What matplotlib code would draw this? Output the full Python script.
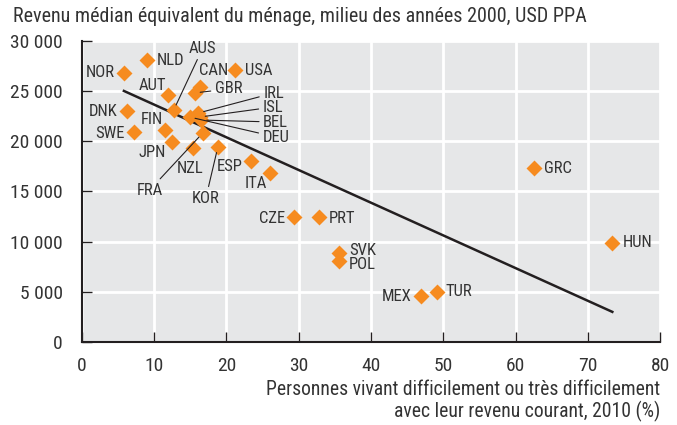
import matplotlib
matplotlib.use("Agg")
import matplotlib.pyplot as plt
from matplotlib import font_manager as fm
from matplotlib.ticker import FuncFormatter

# pick a condensed sans close to the original (Helvetica Condensed look)
installed = {f.name for f in fm.fontManager.ttflist}
for cand in ['Roboto Condensed', 'Archivo Narrow', 'PT Sans Narrow',
             'Liberation Sans Narrow', 'Asap Condensed']:
    if cand in installed:
        plt.rcParams['font.family'] = [cand, 'DejaVu Sans']
        break

# ==========================================
# Data
# ==========================================
countries = ['NOR', 'NLD', 'AUT', 'AUS', 'USA', 'CAN', 'GBR', 'IRL', 'ISL',
             'BEL', 'DEU', 'DNK', 'FIN', 'SWE', 'JPN', 'NZL', 'KOR', 'FRA',
             'ESP', 'ITA', 'CZE', 'PRT', 'SVK', 'POL', 'MEX', 'TUR', 'GRC',
             'HUN']
difficult_pct = [5.8, 9.0, 11.9, 12.7, 21.2, 16.3, 15.6, 16.1, 16.3,
                 16.5, 14.9, 6.2, 11.5, 7.2, 12.5, 15.4, 18.8, 16.7,
                 23.4, 26.0, 29.3, 32.8, 35.6, 35.6, 46.9, 49.1, 62.6,
                 73.4]
median_income = [26800, 28100, 24600, 23100, 27100, 25400, 24800, 22800,
                 22400, 22100, 22400, 23000, 21100, 20900, 19900, 19300,
                 19400, 20800, 18000, 16800, 12400, 12400, 8900, 8100,
                 4600, 5000, 17300, 9900]

# fitted trend line endpoints
trend_x = [5.8, 73.4]
trend_y = [25000, 3000]

x_ticks = [0, 10, 20, 30, 40, 50, 60, 70, 80]
y_ticks = [0, 5000, 10000, 15000, 20000, 25000, 30000]

# label placement: offset in pixels, alignment, leader line
label_pos = {
    'NOR': (-9, 0, 'right', False), 'NLD': (10, -1, 'left', False),
    'AUT': (-16, 9, 'center', False), 'AUS': (29, 62, 'center', True),
    'USA': (10, -1, 'left', False), 'CAN': (14, 16, 'center', False),
    'GBR': (34, 4, 'center', True), 'IRL': (65, 20, 'left', True),
    'ISL': (63, 10, 'left', True), 'BEL': (62, -2, 'left', True),
    'DEU': (73, -20, 'left', True), 'DNK': (-9, 0, 'right', False),
    'FIN': (-13, 11, 'center', False), 'SWE': (-9, -1, 'right', False),
    'JPN': (-20, -10, 'center', False), 'NZL': (-3, -20, 'center', False),
    'KOR': (-12, -51, 'center', True), 'FRA': (-53, -57, 'center', True),
    'ESP': (-21, -5, 'center', False), 'ITA': (-14, -10, 'center', False),
    'CZE': (-9, -1, 'right', False), 'PRT': (10, -1, 'left', False),
    'SVK': (10, 2, 'left', False), 'POL': (10, -4, 'left', False),
    'MEX': (-9, -1, 'right', False), 'TUR': (9, 0, 'left', False),
    'GRC': (10, 0, 'left', False), 'HUN': (10, 0, 'left', False),
}

text_col = '#333333'
orange = '#F68B1F'

fig = plt.figure(figsize=(6.77, 4.25), dpi=100)
ax = fig.add_axes([0.1211, 0.1953, 0.8538, 0.7089])
ax.set_facecolor('#e6e7e8')

ax.set_xlim(0, 80)
ax.set_ylim(0, 30000)
ax.set_xticks(x_ticks)
ax.set_yticks(y_ticks)
ax.yaxis.set_major_formatter(
    FuncFormatter(lambda v, p: f"{int(v):,}".replace(',', ' ')))
ax.grid(True, color='white', linewidth=2)
ax.set_axisbelow(True)

for s in ['top', 'right']:
    ax.spines[s].set_visible(False)
for s in ['left', 'bottom']:
    ax.spines[s].set_linewidth(1.5)
    ax.spines[s].set_color('#231f20')
    ax.spines[s].set_zorder(4)

ax.tick_params(direction='in', length=7, width=1, color='#231f20',
               labelsize=14, labelcolor=text_col, pad=11)
ax.tick_params(axis='y', pad=14)

ax.plot(trend_x, trend_y, color='#231f20', linewidth=1.8, zorder=2)
ax.scatter(difficult_pct, median_income, marker='D', s=66, color=orange,
           linewidths=0, zorder=3)

for c, xv, yv in zip(countries, difficult_pct, median_income):
    dx, dy, ha, line = label_pos[c]
    arrow = None
    if line:
        arrow = dict(arrowstyle='-', color='#231f20', lw=0.8,
                     shrinkA=1, shrinkB=4)
    ax.annotate(c, (xv, yv), xytext=(dx, dy), textcoords='offset pixels',
                ha=ha, va='center', fontsize=12, color=text_col,
                arrowprops=arrow, zorder=5)

fig.text(13 / 677, 1 - 17 / 425,
         "Revenu médian équivalent du ménage, milieu des années 2000, USD PPA",
         ha='left', va='center', fontsize=14.5, color=text_col)
fig.text(660 / 677, 1 - 401 / 425,
         "Personnes vivant difficilement ou très difficilement\n"
         "avec leur revenu courant, 2010 (%)",
         ha='right', va='center', fontsize=14.1, color=text_col,
         multialignment='right', linespacing=1.1)

plt.savefig('out.png', dpi=100)
